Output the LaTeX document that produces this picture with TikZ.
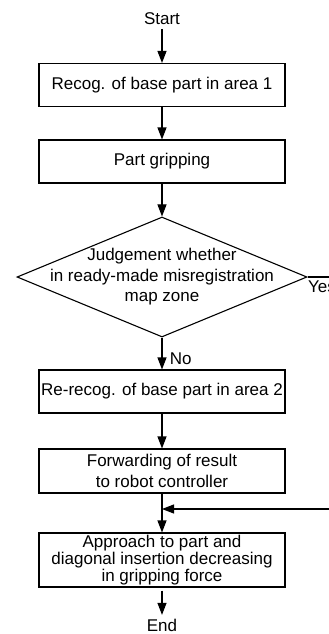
\documentclass[tikz,border=0pt]{standalone}
\usepackage{fontspec}
\setmainfont{Liberation Sans}
\usetikzlibrary{shapes.geometric, positioning, arrows.meta}

\begin{document}
\begin{tikzpicture}[on grid, line width=1.1pt, >={Triangle[length=12pt,width=9pt]},
		font=\fontsize{17}{20.4}\selectfont,
		proc/.style={draw, rectangle, minimum width=246pt, minimum height=43pt, inner xsep=2pt, align=center},
		decision/.style={draw, diamond, minimum width=290pt, minimum height=120pt, inner sep=0pt}]
		\useasboundingbox (0pt,0pt) rectangle (329pt,-634pt);
		\clip (0pt,0pt) rectangle (329pt,-634pt);

		\node 				(start) 	at (162pt,-19pt)			{Start};
		\node[proc] 		(recog) 	[below=66pt of start]		{Recog. of base part in area 1};
		\node[proc] 		(grip) 		[below=76.5pt of recog]		{Part gripping};
		\node[decision] 	(judge) 	[below=115.5pt of grip]		{};
		\node[align=center] (judgetxt) 	at (judge)					{Judgement whether\\in ready-made misregistration\\map zone};
		\node[proc] 		(rerecog) 	[below=114.5pt of judge]	{Re-recog. of base part in area 2};
		\node[proc, minimum height=44pt] (fwd) [below=79.5pt of rerecog] {Forwarding of result\\to robot controller};
		\node[proc, minimum height=54pt, inner ysep=2pt, font=\fontsize{17}{15.5}\selectfont]
							(appr) 		[below=89pt of fwd]			{Approach to part and\\diagonal insertion decreasing\\in gripping force};
		\node 				(end) 		[below=65pt of appr]		{End};

		% loose ends, cut off by the frame
		\coordinate (yesend) at (345pt,-277pt);
		\coordinate (back) 	at (345pt,-509pt);

		\path[->]
			(start) 	edge 							(recog)
			(recog) 	edge 							(grip)
			(grip) 		edge 							(judge)
			(judge) 	edge node[right, pos=.65, xshift=4pt] {No} (rerecog)
			(rerecog) 	edge 							(fwd)
			(fwd) 		edge 							(appr)
			(appr) 		edge[shorten <=3pt] 			(end)
			;
		\draw (judge.east) -- node[pos=0, anchor=north west, inner xsep=0pt, inner ysep=3pt] {Yes} (yesend);
		\draw[->] (back) -- (back -| fwd.south);
	\end{tikzpicture}
\end{document}
